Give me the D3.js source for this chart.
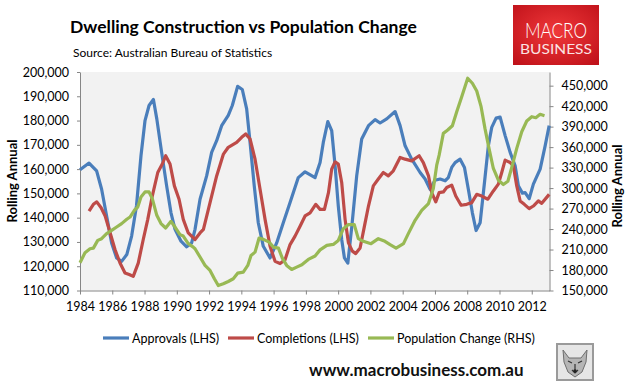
<!DOCTYPE html>
<html>
<head>
<meta charset="utf-8">
<title>Dwelling Construction vs Population Change</title>
<script src="https://cdn.jsdelivr.net/npm/d3@7/dist/d3.min.js"></script>
<style>
  body { margin: 0; background: #fff; }
  svg text { font-family: Lato, "Open Sans", sans-serif; }
</style>
</head>
<body>
<svg id="chart" width="630" height="388"></svg>

<script>
// ---- data (values in thousands) ----
var xTicks = [1984, 1986, 1988, 1990, 1992, 1994, 1996, 1998, 2000, 2002, 2004, 2006, 2008, 2010, 2012];
var leftTicks = [110, 120, 130, 140, 150, 160, 170, 180, 190, 200];
var rightTicks = [150, 180, 210, 240, 270, 300, 330, 360, 390, 420, 450];

var approvals = [
  [1984.00,159.7],[1984.56,162.5],[1985.03,159.3],[1985.34,151.7],[1985.65,140.7],[1985.96,129.6],
  [1986.27,123.4],[1986.58,122.0],[1986.90,124.8],[1987.20,132.4],[1987.50,144.8],[1987.78,165.5],
  [1988.03,180.0],[1988.28,186.2],[1988.55,188.7],[1988.76,180.7],[1989.06,166.9],[1989.37,153.1],
  [1989.64,142.0],[1989.89,135.2],[1990.26,130.3],[1990.61,128.0],[1990.92,129.6],[1991.13,135.2],
  [1991.44,147.6],[1991.85,157.2],[1992.16,166.9],[1992.47,171.7],[1992.78,177.9],[1993.19,182.1],
  [1993.44,186.2],[1993.77,194.1],[1994.06,192.8],[1994.33,184.8],[1994.54,171.0],[1994.80,153.1],
  [1995.05,137.9],[1995.36,128.2],[1995.78,123.4],[1996.19,129.6],[1996.60,137.9],[1997.02,146.2],
  [1997.53,156.5],[1997.95,158.9],[1998.57,156.5],[1998.88,162.7],[1999.08,171.0],[1999.36,179.6],
  [1999.60,175.9],[1999.81,161.4],[2000.01,144.8],[2000.22,131.0],[2000.39,123.4],[2000.60,121.3],
  [2000.85,136.5],[2001.15,157.2],[2001.46,172.4],[2001.88,177.9],[2002.29,180.4],[2002.60,179.0],
  [2003.01,180.7],[2003.53,183.7],[2003.84,177.9],[2004.15,169.6],[2004.56,164.1],[2005.08,158.6],
  [2005.39,155.9],[2005.70,151.7],[2006.00,155.4],[2006.32,155.9],[2006.63,155.2],[2006.83,156.5],
  [2007.04,160.7],[2007.25,162.7],[2007.56,164.1],[2007.83,160.7],[2008.07,151.7],[2008.32,142.0],
  [2008.55,134.7],[2008.80,137.9],[2009.07,154.5],[2009.31,169.6],[2009.52,177.2],[2009.79,181.0],
  [2010.04,181.4],[2010.35,173.8],[2010.66,166.9],[2010.97,161.4],[2011.17,153.1],[2011.42,150.1],
  [2011.59,150.3],[2011.84,147.8],[2012.10,153.8],[2012.52,160.0],[2012.83,169.6],[2013.08,177.9]
];

var completions = [
  [1984.56,142.7],[1984.83,145.5],[1985.04,146.5],[1985.31,144.1],[1985.56,140.7],[1985.87,133.7],
  [1986.17,126.9],[1986.48,121.3],[1986.79,117.2],[1987.05,116.6],[1987.30,115.8],[1987.61,121.3],
  [1987.92,131.0],[1988.20,139.3],[1988.48,148.9],[1988.82,158.6],[1989.10,162.1],[1989.31,165.5],
  [1989.58,162.1],[1989.85,153.1],[1990.14,147.6],[1990.40,139.3],[1990.71,133.7],[1991.13,131.0],
  [1991.44,133.7],[1991.65,135.2],[1992.06,146.2],[1992.47,157.2],[1992.89,166.2],[1993.19,169.0],
  [1993.71,171.0],[1994.02,173.1],[1994.27,174.5],[1994.54,172.4],[1994.85,164.1],[1995.16,151.7],
  [1995.47,139.3],[1995.78,128.2],[1996.09,122.0],[1996.40,121.1],[1996.71,122.7],[1997.02,128.9],
  [1997.33,132.4],[1997.64,136.5],[1997.95,140.7],[1998.26,142.0],[1998.61,145.5],[1998.88,143.4],
  [1999.15,143.4],[1999.40,150.3],[1999.60,160.0],[1999.81,163.0],[2000.01,162.1],[2000.22,154.5],
  [2000.43,139.3],[2000.64,129.6],[2000.88,126.2],[2001.09,125.2],[2001.36,127.5],[2001.63,136.5],
  [2001.88,144.8],[2002.18,153.1],[2002.49,155.9],[2002.80,158.6],[2003.11,157.2],[2003.42,159.3],
  [2003.84,164.8],[2004.15,164.1],[2004.56,163.4],[2005.02,165.5],[2005.28,162.7],[2005.60,157.2],
  [2005.80,150.3],[2006.05,146.5],[2006.26,150.3],[2006.52,150.6],[2006.73,152.4],[2007.04,153.4],
  [2007.29,148.9],[2007.62,145.1],[2007.97,145.5],[2008.28,146.2],[2008.59,149.6],[2008.90,148.9],
  [2009.28,147.6],[2009.62,151.0],[2009.93,153.8],[2010.14,158.6],[2010.35,163.7],[2010.66,162.7],
  [2010.86,161.4],[2011.07,153.1],[2011.28,146.9],[2011.54,145.5],[2011.84,143.7],[2012.10,144.8],
  [2012.41,146.9],[2012.62,145.9],[2013.08,149.6]
];

var population = [
  [1984.00,190.7],[1984.31,205.4],[1984.62,211.2],[1984.83,212.1],[1985.10,223.4],[1985.34,225.9],
  [1985.65,233.3],[1985.96,238.1],[1986.27,243.0],[1986.58,247.9],[1986.90,254.3],[1987.10,257.6],
  [1987.37,267.5],[1987.58,272.3],[1987.78,287.0],[1988.03,294.3],[1988.28,294.3],[1988.48,284.6],
  [1988.76,260.1],[1989.02,248.0],[1989.31,241.5],[1989.64,251.3],[1989.93,241.5],[1990.20,231.8],
  [1990.40,229.7],[1990.71,218.6],[1991.02,213.6],[1991.13,211.2],[1991.44,199.0],[1991.75,186.7],
  [1992.06,179.4],[1992.33,167.2],[1992.57,157.3],[1992.88,159.8],[1993.19,163.2],[1993.50,167.2],
  [1993.77,175.4],[1994.12,176.9],[1994.40,186.7],[1994.60,201.4],[1994.85,206.2],[1995.10,226.8],
  [1995.37,224.9],[1995.72,220.9],[1995.99,213.6],[1996.30,212.1],[1996.54,197.4],[1996.81,186.7],
  [1997.12,180.8],[1997.43,184.2],[1997.75,187.7],[1998.15,195.5],[1998.57,200.5],[1998.88,209.5],
  [1999.30,216.1],[1999.70,217.5],[2000.01,223.4],[2000.32,240.6],[2000.64,246.5],[2001.00,246.5],
  [2001.25,225.9],[2001.56,222.0],[2002.04,218.6],[2002.49,225.9],[2002.90,222.0],[2003.22,217.1],
  [2003.59,212.1],[2004.05,218.6],[2004.35,233.3],[2004.77,252.8],[2005.18,267.5],[2005.60,277.3],
  [2005.90,299.3],[2006.11,333.6],[2006.26,348.2],[2006.52,380.1],[2006.79,385.0],[2007.08,391.3],
  [2007.35,411.8],[2007.66,433.8],[2008.03,460.9],[2008.32,453.5],[2008.59,442.2],[2008.86,419.2],
  [2009.10,387.4],[2009.35,358.1],[2009.62,328.7],[2009.93,311.5],[2010.24,305.2],[2010.52,310.0],
  [2010.77,331.1],[2011.07,358.1],[2011.38,382.5],[2011.69,398.2],[2012.00,404.5],[2012.25,403.0],
  [2012.52,408.0],[2012.79,406.0]
];

var seriesNames = ["Approvals (LHS)", "Completions (LHS)", "Population Change (RHS)"];
var seriesColors = ["#4a7ebb", "#be4b48", "#98b954"];

// ---- layout ----
var svg = d3.select("#chart");
var plotLeft = 80, plotRight = 549.5, plotTop = 72, plotBottom = 290.5;

var x = d3.scaleLinear().domain([1984, 2013.1]).range([plotLeft, plotRight]);
var yL = d3.scaleLinear().domain([110, 200]).range([plotBottom, plotTop]);
var yR = d3.scaleLinear().domain([150, 470]).range([plotBottom, plotTop]);
var fmt = function(d) { return d3.format(",")(d * 1000); };

// title block
svg.append("text").attr("x", 70).attr("y", 33)
    .attr("font-size", 17.5).attr("font-weight", "bold").attr("fill", "#000")
    .text("Dwelling Construction vs Population Change");
svg.append("text").attr("x", 73).attr("y", 57)
    .attr("font-size", 12).attr("fill", "#000")
    .text("Source: Australian Bureau of Statistics");

// logo
var grad = svg.append("defs").append("radialGradient").attr("id", "logoGrad")
    .attr("cx", "50%").attr("cy", "45%").attr("r", "70%");
grad.append("stop").attr("offset", "0%").attr("stop-color", "#f0383a");
grad.append("stop").attr("offset", "100%").attr("stop-color", "#c0121a");
svg.append("rect").attr("x", 513).attr("y", 5).attr("width", 86).attr("height", 60)
    .attr("fill", "url(#logoGrad)");
svg.append("text").attr("x", 556).attr("y", 38).attr("text-anchor", "middle")
    .attr("font-family", "Roboto").attr("font-weight", 300).attr("font-size", 21)
    .attr("fill", "#fff").attr("textLength", 62).attr("lengthAdjust", "spacingAndGlyphs")
    .text("MACRO");
svg.append("text").attr("x", 556).attr("y", 54).attr("text-anchor", "middle")
    .attr("font-family", "Roboto").attr("font-size", 13)
    .attr("fill", "#fbe3e3").attr("textLength", 72).attr("lengthAdjust", "spacingAndGlyphs")
    .text("BUSINESS");

// plot area
svg.append("rect").attr("x", plotLeft).attr("y", plotTop)
    .attr("width", plotRight - plotLeft).attr("height", plotBottom - plotTop).attr("fill", "#f2f2f2");

function styleAxis(g) {
  g.select(".domain").attr("stroke", "#868686");
  g.selectAll(".tick line").attr("stroke", "#868686");
  g.selectAll(".tick text").attr("fill", "#000").attr("font-size", 12.5)
      .attr("font-family", "Lato, 'Open Sans', sans-serif");
}

svg.append("g").attr("transform", "translate(" + plotLeft + ",0)")
    .call(d3.axisLeft(yL).tickValues(leftTicks).tickSize(3).tickPadding(8).tickSizeOuter(0).tickFormat(fmt))
    .call(styleAxis);
svg.append("g").attr("transform", "translate(" + plotRight + ",0)")
    .call(d3.axisRight(yR).tickValues(rightTicks).tickSize(4).tickPadding(8).tickSizeOuter(0).tickFormat(fmt))
    .call(styleAxis);
svg.append("g").attr("transform", "translate(0," + plotBottom + ")")
    .call(d3.axisBottom(x).tickValues(xTicks).tickSize(4).tickPadding(8).tickSizeOuter(0).tickFormat(d3.format("d")))
    .call(styleAxis);

// axis titles
svg.append("text").attr("transform", "translate(17,181) rotate(-90)")
    .attr("text-anchor", "middle").attr("font-size", 13).attr("font-weight", "bold")
    .text("Rolling Annual");
svg.append("text").attr("transform", "translate(622,186) rotate(-90)")
    .attr("text-anchor", "middle").attr("font-size", 13).attr("font-weight", "bold")
    .text("Rolling Annual");

// lines
var lineL = d3.line().x(function(d) { return x(d[0]); }).y(function(d) { return yL(d[1]); });
var lineR = d3.line().x(function(d) { return x(d[0]); }).y(function(d) { return yR(d[1]); });

[[approvals, lineL], [completions, lineL], [population, lineR]].forEach(function(s, i) {
  svg.append("path").datum(s[0])
      .attr("d", s[1])
      .attr("fill", "none")
      .attr("stroke", seriesColors[i])
      .attr("stroke-width", 3.2)
      .attr("stroke-linejoin", "round");
});

// legend
var legendX = [103, 228, 368];
var legend = svg.selectAll(".legend").data(seriesNames).enter().append("g")
    .attr("class", "legend")
    .attr("transform", function(d, i) { return "translate(" + legendX[i] + ",338)"; });
legend.append("line").attr("x1", 0).attr("x2", 26).attr("y1", 0).attr("y2", 0)
    .attr("stroke", function(d, i) { return seriesColors[i]; }).attr("stroke-width", 3.2);
legend.append("text").attr("x", 29).attr("y", 4.5).attr("font-size", 12.5)
    .text(function(d) { return d; });

// footer
svg.append("text").attr("x", 309).attr("y", 376)
    .attr("font-size", 17).attr("font-weight", "bold").attr("fill", "#111")
    .text("www.macrobusiness.com.au");

// wolf badge
var wolf = svg.append("g").attr("transform", "translate(557,344)");
wolf.append("rect").attr("width", 36).attr("height", 36).attr("fill", "#e6e6e6")
    .attr("stroke", "#9a9a9a").attr("stroke-width", 2);
wolf.append("path").attr("d", "M6,6 L12,14 L24,14 L30,6 L29,18 L25,28 L18,33 L11,28 L7,18 Z")
    .attr("fill", "#b5b5b5").attr("stroke", "#6e6e6e").attr("stroke-width", 1);
wolf.append("path").attr("d", "M11,17 L15,19 M25,17 L21,19 M15,26 L18,29 L21,26 M18,20 L18,28")
    .attr("stroke", "#333").attr("stroke-width", 1.2).attr("fill", "none");
wolf.append("circle").attr("cx", 18).attr("cy", 27).attr("r", 1.8).attr("fill", "#222");
</script>
</body>
</html>
